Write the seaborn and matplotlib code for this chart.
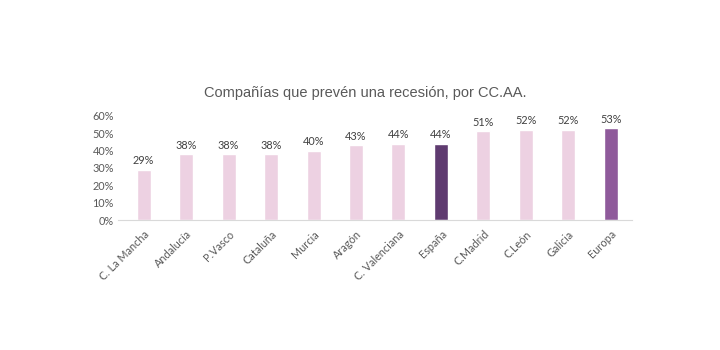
import matplotlib
matplotlib.use("Agg")
import matplotlib.pyplot as plt
import seaborn as sns
import pandas as pd

categories = ["C. La Mancha", "Andalucía", "P.Vasco", "Cataluña", "Murcia", "Aragón",
              "C. Valenciana", "España", "C.Madrid", "C.León", "Galicia", "Europa"]
values = [29, 38, 38, 38, 40, 43, 44, 44, 51, 52, 52, 53]
ytick_vals = [0, 10, 20, 30, 40, 50, 60]

light = "#EDD1E2"
colors = [light] * 7 + ["#5F3B70", light, light, light, "#8F5A9B"]

sns.set_theme(style="white")
plt.rcParams["font.family"] = ["Lato", "DejaVu Sans"]

df = pd.DataFrame({"cat": categories, "val": values})

fig = plt.figure(figsize=(7.2, 3.5), dpi=100)
ax = fig.add_axes([0.164, 0.371, 0.714, 0.298])
sns.barplot(data=df, x="cat", y="val", hue="cat", palette=colors, legend=False,
            width=0.33, ax=ax, saturation=1)

ax.set_ylim(0, 60)
ax.set_yticks(ytick_vals)
ax.set_yticklabels([f"{v}%" for v in ytick_vals], fontsize=7.8, color="#595959")
ax.set_xlabel("")
ax.set_ylabel("")
ax.set_xticks(range(len(categories)))
ax.set_xticklabels(categories, rotation=45, ha="right", rotation_mode="anchor",
                   fontsize=7.8, color="#595959")
ax.tick_params(axis="both", length=0, pad=3)
ax.tick_params(axis="x", pad=6)
for s in ["top", "right", "left"]:
    ax.spines[s].set_visible(False)
ax.spines["bottom"].set_color("#D9D9D9")
ax.spines["bottom"].set_linewidth(0.8)
ax.set_xlim(-0.6, len(categories) - 0.5)

for i, v in enumerate(values):
    ax.text(i, v + 2, f"{v}%", ha="center", va="bottom", fontsize=7.8, color="#404040")

fig.text(0.507, 0.735, "Compañías que prevén una recesión, por CC.AA.",
         ha="center", va="center", fontsize=10.5, color="#595959",
         family=["Liberation Sans", "DejaVu Sans"])

fig.savefig("out.png", dpi=100, facecolor="white")
